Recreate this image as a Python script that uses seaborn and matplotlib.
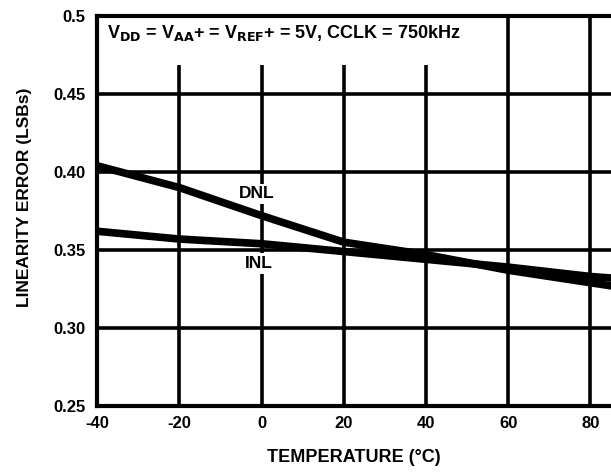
import numpy as np
import pandas as pd
import matplotlib.pyplot as plt
import seaborn as sns
from matplotlib.patches import Rectangle

# data
temp = [-40, -20, 0, 20, 40, 60, 80, 85]
dnl = [0.404, 0.390, 0.372, 0.355, 0.347, 0.337, 0.329, 0.327]
inl = [0.362, 0.357, 0.354, 0.349, 0.344, 0.339, 0.333, 0.332]
xticks = [-40, -20, 0, 20, 40, 60, 80]
xtick_labels = ["-40", "-20", "0", "20", "40", "60", "80"]
yticks = [0.25, 0.30, 0.35, 0.40, 0.45, 0.5]
ytick_labels = ["0.25", "0.30", "0.35", "0.40", "0.45", "0.5"]

df = pd.DataFrame({"temp": temp * 2, "err": dnl + inl,
                   "curve": ["DNL"] * len(temp) + ["INL"] * len(temp)})

sns.set_style("white")
plt.rcParams["font.family"] = ["Liberation Sans", "DejaVu Sans"]
plt.rcParams["font.weight"] = "bold"
plt.rcParams["text.color"] = "black"
plt.rcParams["xtick.color"] = "black"
plt.rcParams["ytick.color"] = "black"
plt.rcParams["axes.labelcolor"] = "black"

fig = plt.figure(figsize=(6.11, 4.72), dpi=100)
ax = fig.add_axes([0.159, 0.140, 0.841, 0.826])

sns.lineplot(data=df, x="temp", y="err", units="curve", estimator=None,
             color="black", linewidth=5.5, ax=ax, zorder=4, legend=False)

ax.set_xlim(-40, 85)
ax.set_ylim(0.25, 0.5)
ax.set_xticks(xticks)
ax.set_xticklabels(xtick_labels)
ax.set_yticks(yticks)
ax.set_yticklabels(ytick_labels)
ax.tick_params(axis="y", length=0, labelsize=12, pad=8.5)
ax.tick_params(axis="x", length=0, labelsize=12, pad=7.5)
for lab in ax.get_xticklabels() + ax.get_yticklabels():
    lab.set_fontweight("bold")

ax.grid(True, color="black", linewidth=2.6)
ax.set_axisbelow(True)
for side in ["left", "bottom", "top"]:
    ax.spines[side].set_color("black")
    ax.spines[side].set_linewidth(3)
ax.spines["right"].set_visible(False)

ax.set_xlabel("TEMPERATURE (°C)", fontsize=13, fontweight="bold")
ax.set_ylabel("LINEARITY ERROR (LSBs)", fontsize=12.5, fontweight="bold")
ax.xaxis.set_label_coords(0.5, -0.110)
ax.yaxis.set_label_coords(-0.126, 0.536)

# white background for the condition text
ax.add_patch(Rectangle((-40, 0.4687), 94, 0.031, facecolor="white",
                       edgecolor="none", zorder=2))
ax.text(-37.5, 0.489, r"V$_{\mathbf{DD}}$ = V$_{\mathbf{AA}}$+ = V$_{\mathbf{REF}}$+ = 5V, CCLK = 750kHz",
        fontsize=13, fontweight="bold", va="center", ha="left", zorder=5)

ax.text(-1.2, 0.386, "DNL", fontsize=12.5, fontweight="bold", ha="center", va="center",
        zorder=3, bbox=dict(facecolor="white", edgecolor="none", pad=2))
ax.text(-0.7, 0.3414, "INL", fontsize=12.5, fontweight="bold", ha="center", va="center",
        zorder=3, bbox=dict(facecolor="white", edgecolor="none", pad=2))

fig.savefig("out.png", dpi=100)
